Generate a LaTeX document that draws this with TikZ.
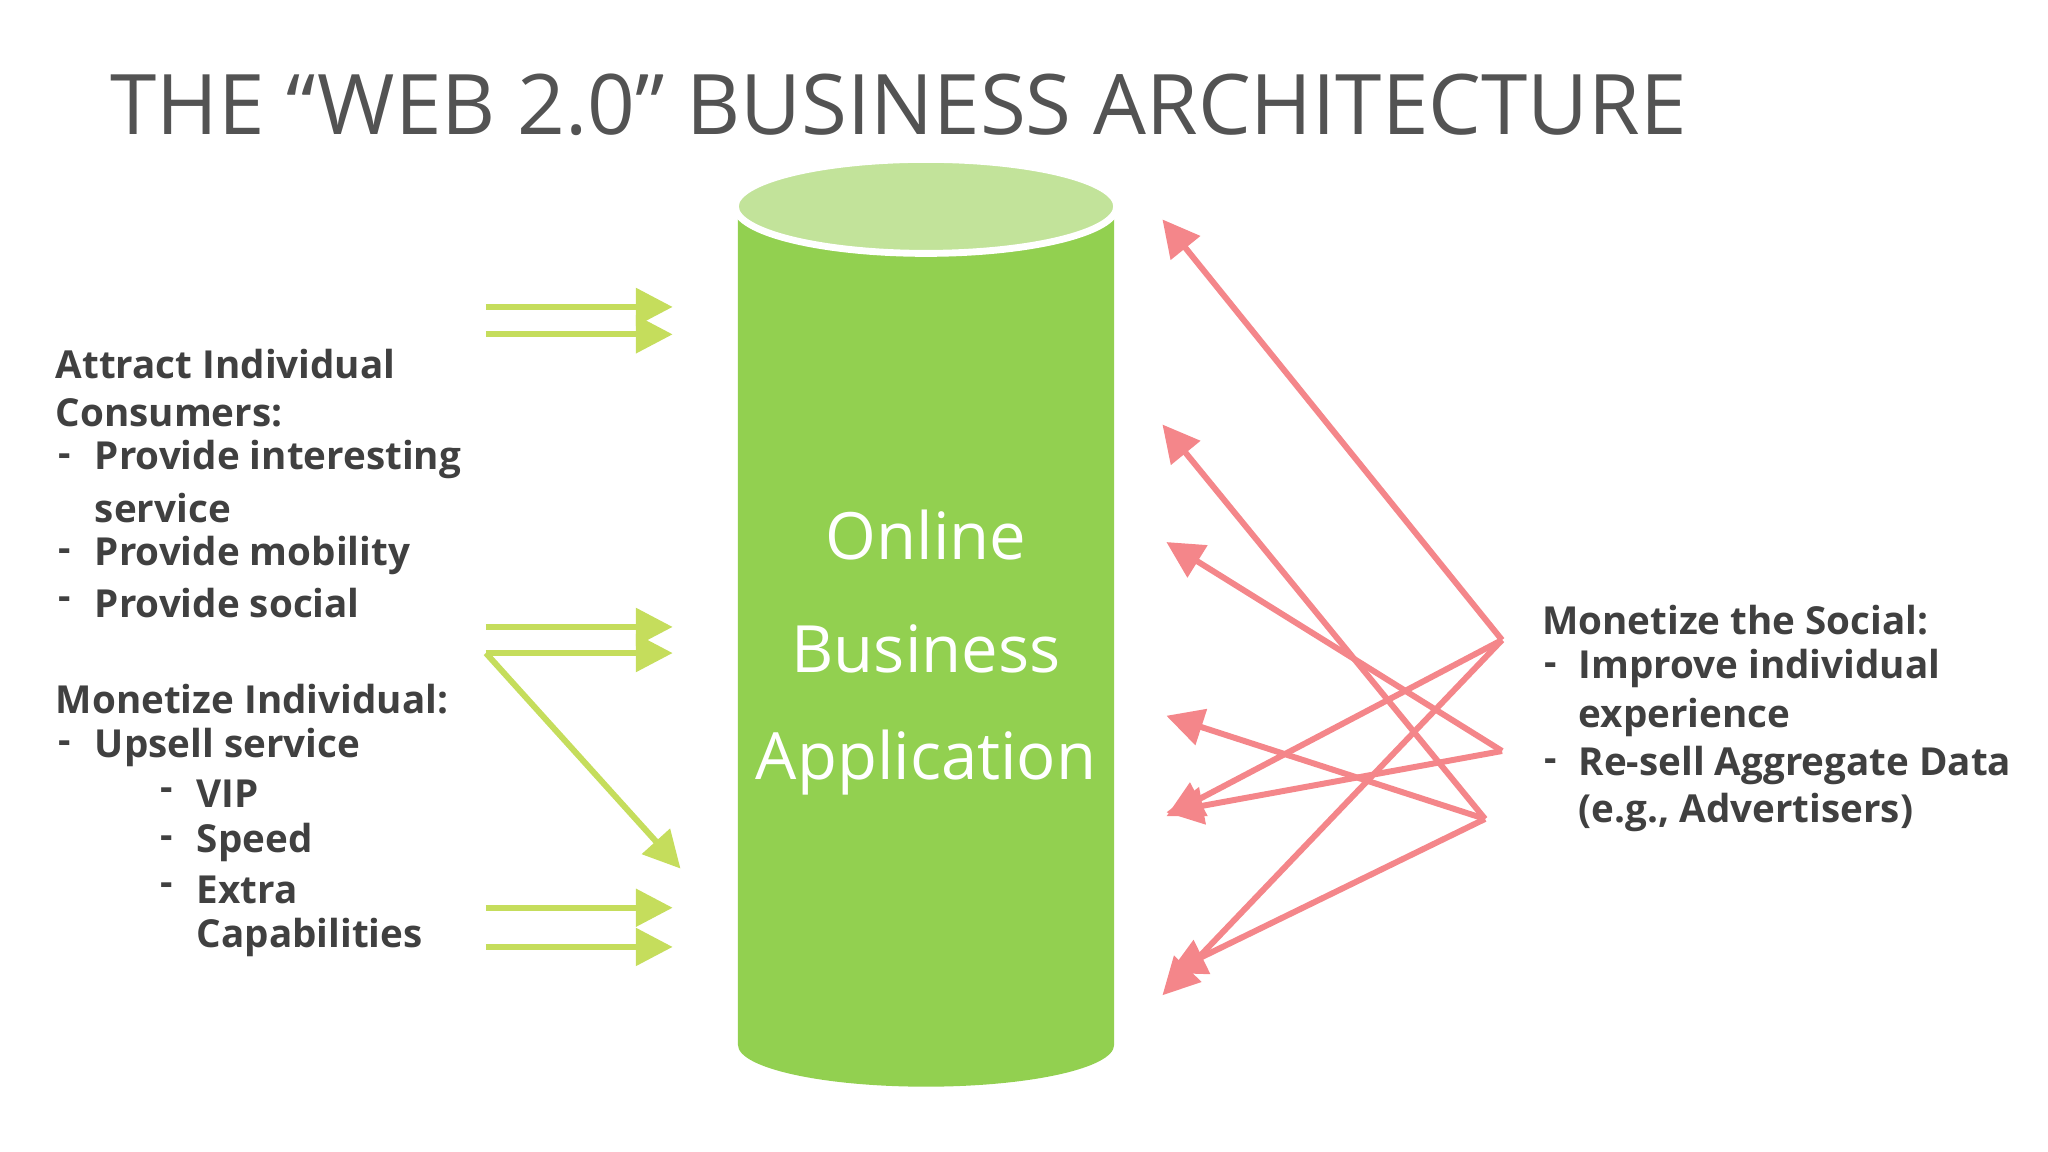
\documentclass[tikz,border=0pt]{standalone}
\usepackage{fontspec}
\setmainfont{Open Sans}
\usetikzlibrary{arrows.meta}
\definecolor{cyl}{HTML}{92D050}
\definecolor{cyltop}{HTML}{C2E39A}
\definecolor{garr}{HTML}{C5DD5C}
\definecolor{rarr}{HTML}{F4868A}
\definecolor{txt}{HTML}{404040}
\begin{document}
\begin{tikzpicture}[x=0.01cm,y=-0.01cm,
  lt/.style={anchor=west,font=\bfseries\fontsize{8.4}{10}\selectfont,text=txt,inner sep=0},
  ct/.style={font=\fontsize{14.2}{17}\selectfont,text=white},
  ga/.style={draw=garr,line width=1.3pt,-{Triangle[length=8pt,width=8pt]}},
  ra/.style={draw=rarr,line width=1.3pt,-{Triangle[length=8pt,width=8pt]}}]
\useasboundingbox (0,0) rectangle (1568,882);
\node[anchor=base west,inner sep=0,text=txt!90,font=\fontsize{18.2}{22}\selectfont] (title) at (84,103) {THE “WEB 2.0” BUSINESS ARCHITECTURE};
% cylinder
\fill[cyl] (565,158) -- (565,800) arc[start angle=180,end angle=0,x radius=144,y radius=32] -- (853,158) -- cycle;
\draw[white,line width=1.5pt,fill=cyltop] (709,158) ellipse[x radius=146,y radius=36];
\node[ct] (c1) at (709,410) {Online};
\node[ct] (c2) at (709,497) {Business};
\node[ct] (c3) at (709,584) {Application};
% left text
\node[lt] (l1) at (42,279) {Attract Individual};
\node[lt] (l2) at (42,316) {Consumers:};
\node[lt] (l3d) at (44,352) {-};\node[lt] (l3) at (72,352) {Provide interesting};
\node[lt] (l4) at (72,389) {service};
\node[lt] (l5d) at (44,425) {-};\node[lt] (l5) at (72,425) {Provide mobility};
\node[lt] (l6d) at (44,462) {-};\node[lt] (l6) at (72,462) {Provide social};
\node[lt] (l7) at (42,535) {Monetize Individual:};
\node[lt] (l8d) at (44,572) {-};\node[lt] (l8) at (72,572) {Upsell service};
\node[lt] (l9d) at (122,608) {-};\node[lt] (l9) at (150,608) {VIP};
\node[lt] (l10d) at (122,645) {-};\node[lt] (l10) at (150,645) {Speed};
\node[lt] (l11d) at (122,681) {-};\node[lt] (l11) at (150,681) {Extra};
\node[lt] (l12) at (150,718) {Capabilities};
% right text
\node[lt] (r1) at (1180,475) {Monetize the Social:};
\node[lt] (r2d) at (1182,512) {-};\node[lt] (r2) at (1208,512) {Improve individual};
\node[lt] (r3) at (1208,549) {experience};
\node[lt] (r4d) at (1182,586) {-};\node[lt] (r4) at (1208,586) {Re-sell Aggregate Data};
\node[lt] (r5) at (1208,622) {(e.g., Advertisers)};
% green arrows
\foreach \n/\y in {a/235,b/256,c/480,d/500,e/695,f/725}{
  \coordinate (gs\n) at (372,\y); \coordinate (ge\n) at (515,\y);
  \draw[ga] (gs\n) -- (ge\n);}
\coordinate (geg) at (521,665);
\draw[ga] (gsd) -- (geg);
% red arrows
\coordinate (s1) at (1150,490); \coordinate (s2) at (1150,575); \coordinate (s3) at (1137,627);
\coordinate (t1) at (890,168); \coordinate (t2) at (890,325); \coordinate (t3) at (893,415);
\coordinate (t4) at (893,548); \coordinate (t5) at (893,625); \coordinate (t5b) at (893,622);
\coordinate (t6) at (895,745); \coordinate (t7) at (890,762);
\draw[ra] (s1) -- (t1);
\draw[ra] (s3) -- (t2);
\draw[ra] (s2) -- (t3);
\draw[ra] (s3) -- (t4);
\draw[ra] (s1) -- (t5);
\draw[ra] (s2) -- (t5b);
\draw[ra] (s3) -- (t6);
\draw[ra] (s1) -- (t7);
\end{tikzpicture}
\end{document}
